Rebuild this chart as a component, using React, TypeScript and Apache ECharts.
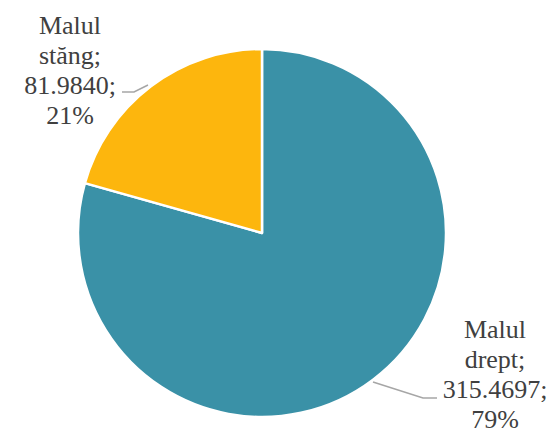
import React, { useEffect, useRef } from "react";
import * as echarts from "echarts";

const categories = ["Malul drept", "Malul stăng"];
const values = [315.4697, 81.984];
const colors = ["#3A91A7", "#FDB60D"];

export default function App() {
  const ref = useRef<HTMLDivElement>(null);
  useEffect(() => {
    if (!ref.current) return;
    const chart = echarts.init(ref.current, undefined, { renderer: "svg" });
    const total = values.reduce((a, b) => a + b, 0);
    const labelLines = (i: number) => [
      ...categories[i].split(" ").map((w, k, arr) => (k === arr.length - 1 ? w + ";" : w)),
      values[i].toFixed(4) + ";",
      Math.round((values[i] / total) * 100) + "%",
    ];
    const labelPos = [
      [495, 374],
      [70, 70],
    ];
    const linePts = [
      [
        [373, 382],
        [423, 398],
        [437, 398],
      ],
      [
        [148, 85],
        [134, 92],
        [122, 92],
      ],
    ];
    const texts: any[] = [];
    categories.forEach((_, i) => {
      const lines = labelLines(i);
      lines.forEach((t, k) => {
        texts.push({
          type: "text",
          x: labelPos[i][0],
          y: labelPos[i][1] + (k - (lines.length - 1) / 2) * 30,
          style: {
            text: t,
            align: "center",
            verticalAlign: "middle",
            font: "26px 'Liberation Serif', serif",
            fontFamily: "Liberation Serif",
            fontSize: 26,
            fill: "#404040",
          },
        });
      });
    });
    chart.setOption({
      animation: false,
      backgroundColor: "#ffffff",
      series: [
        {
          type: "pie",
          center: [262, 233],
          radius: 184,
          startAngle: 90,
          clockwise: true,
          data: categories.map((c, i) => ({
            name: c,
            value: values[i],
            itemStyle: { color: colors[i] },
          })),
          itemStyle: { borderColor: "#ffffff", borderWidth: 2.5 },
          label: { show: false },
          labelLine: { show: false },
        },
      ],
      graphic: [
        ...categories.map((_, i) => ({
          type: "polyline",
          shape: { points: linePts[i] },
          style: { stroke: "#A6A6A6", lineWidth: 1.5, fill: null },
        })),
        ...texts,
      ],
    });
    return () => chart.dispose();
  }, []);
  return (
    <div
      ref={ref}
      style={{ position: "fixed", left: 0, top: 0, width: 554, height: 428 }}
    />
  );
}
